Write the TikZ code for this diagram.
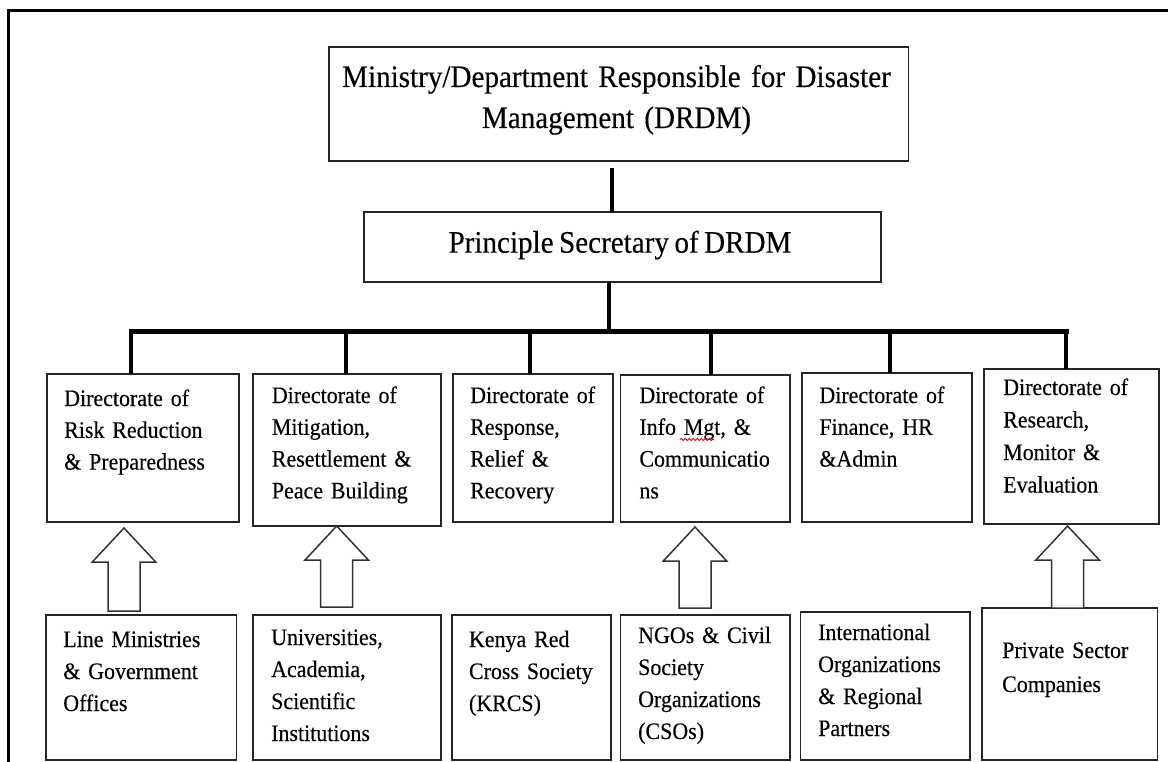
\documentclass[tikz,border=0pt]{standalone}
\usepackage{fontspec}
\setmainfont{Liberation Serif}[FakeStretch=0.93, WordSpace=0.75, FakeBold=0.3]
\usetikzlibrary{decorations.pathmorphing}

% rectangle node given by its top-left and bottom-right corners
\newcommand\orgbox[5]{%
  \node[box, anchor=north west, minimum width={#4-#2}, minimum height={#5-#3}] (#1) at (#2,#3) {};}
% hollow upward block arrow: centre x, tip y, foot y
\newcommand\hollowup[3]{%
  \draw[hollow] (#1,#2) -- (#1+31.7,#2+34) -- (#1+16,#2+34) -- (#1+16,#3)
    -- (#1-16,#3) -- (#1-16,#2+34) -- (#1-31.7,#2+34) -- cycle;}

\begin{document}
\begin{tikzpicture}[x=1pt,y=-1pt,
  box/.style={draw=black!85, line width=1.8pt, fill=white, inner sep=0pt, outer sep=0pt},
  headtext/.style={font=\fontsize{31.3}{41}\selectfont, inner sep=0pt, text width=580pt, align=center, anchor=base},
  pstext/.style={font=\fontsize{31.3}{41}\selectfont, inner sep=0pt, anchor=base},
  dirtext/.style={font=\fontsize{23.6}{31.8}\selectfont, inner sep=0pt, text width=165pt, align=left, anchor=base west},
  subtext/.style={dirtext, font=\fontsize{23.6}{32}\selectfont},
  conn/.style={line width=4pt, black},
  bus/.style={line width=5pt, black},
  hollow/.style={draw=black!80, line width=1.5pt, fill=white, line join=miter},
  frame/.style={line width=3pt, black},
  spell/.style={draw=red, line width=0.9pt, decorate, decoration={snake, amplitude=1.1pt, segment length=4pt}}
]
\useasboundingbox (0,0) rectangle (1168,762);
\fill[white] (0,0) rectangle (1168,762);
\clip (0,0) rectangle (1168,762);

% outer frame (only its left and top sides fall inside the page)
\draw[frame] (8.4,780) -- (8.4,11) -- (1180,11);

% ministry and principal secretary
\orgbox{top}{329}{47}{908.5}{161}
\orgbox{ps}{363.6}{212}{880.7}{282}
\node[headtext] (toptxt) at (616.5,87) {Ministry/Department Responsible for Disaster\\Management (DRDM)};
\node[pstext] (pstxt) at (620,252.7) {Principle Secretary of DRDM};

% directorates
\orgbox{d1}{47.1}{374}{239.2}{522}
\orgbox{d2}{253}{374}{440.9}{526}
\orgbox{d3}{452.7}{374}{613}{522}
\orgbox{d4}{620.5}{375}{790}{522}
\orgbox{d5}{802.3}{373}{971.8}{522}
\orgbox{d6}{984.2}{369}{1159.3}{524}

\node[dirtext] (t1) at (64,406) {Directorate of\\Risk Reduction\\\& Preparedness};
\node[dirtext] (t2) at (271.7,403) {Directorate of\\Mitigation,\\Resettlement \&\\Peace Building};
\node[dirtext] (t3) at (470,403) {Directorate of\\Response,\\Relief \&\\Recovery};
\node[dirtext] (t4) at (639.2,403) {Directorate of\\Info Mgt, \&\\Communicatio\\ns};
\node[dirtext] (t5) at (819.2,403) {Directorate of\\Finance, HR\\\&Admin};
\node[dirtext, font=\fontsize{23.6}{32.5}\selectfont] (t6) at (1003,395) {Directorate of\\Research,\\Monitor \&\\Evaluation};
\draw[spell] (680,439.5) -- (714,439.5);

% partner institutions
\orgbox{b1}{45.9}{615}{236.5}{760}
\orgbox{b2}{253}{615}{440.9}{760}
\orgbox{b3}{451.6}{615}{611}{760}
\orgbox{b4}{620.5}{615}{790}{760}
\orgbox{b5}{800.5}{612}{970}{760}
\orgbox{b6}{982.3}{608}{1157.4}{760}

\node[subtext] (s1) at (63.1,647) {Line Ministries\\\& Government\\Offices};
\node[subtext] (s2) at (271,645) {Universities,\\Academia,\\Scientific\\Institutions};
\node[subtext] (s3) at (468.8,647) {Kenya Red\\Cross Society\\(KRCS)};
\node[subtext] (s4) at (638,643) {NGOs \& Civil\\Society\\Organizations\\(CSOs)};
\node[subtext] (s5) at (818,640) {International\\Organizations\\\& Regional\\Partners};
\node[subtext, font=\fontsize{23.6}{34}\selectfont] (s6) at (1002,658) {Private Sector\\Companies};

% hierarchy lines
\coordinate (k00) at (611.5,168);
\coordinate (k0) at (609,331);
\draw[conn] (k00) -- (k00 |- ps.north);
\draw[conn] (ps.south -| k0) -- (k0);
\coordinate (k1) at (131.3,331);
\coordinate (k2) at (345.6,331);
\coordinate (k3) at (530,331);
\coordinate (k4) at (711,331);
\coordinate (k5) at (889.7,331);
\coordinate (k6) at (1066,331);
\draw[bus] ([xshift=-2pt]k1) -- ([xshift=2.5pt]k6);
\foreach \k/\d in {k1/d1,k2/d2,k3/d3,k4/d4,k5/d5,k6/d6}
  \draw[conn] (\k) -- (\k |- \d.north);

% support arrows from partners to directorates
\hollowup{124}{528}{611}
\hollowup{336.7}{526}{607}
\hollowup{695}{527}{608}
\hollowup{1067.6}{526}{608}
\end{tikzpicture}
\end{document}
